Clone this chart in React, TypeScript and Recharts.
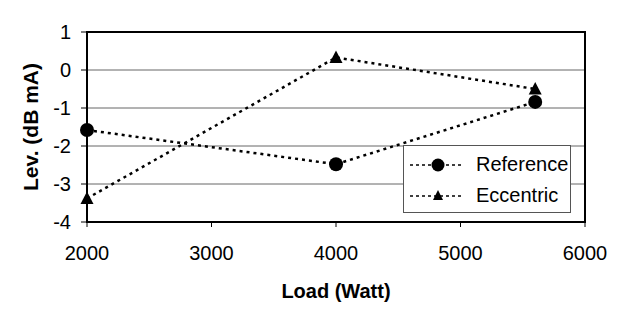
import React from 'react';
import {
  LineChart, Line, XAxis, YAxis, CartesianGrid, Legend, ReferenceArea, Label
} from 'recharts';

const loads = [2000, 4000, 5600];
const referenceLev = [-1.58, -2.48, -0.84];
const eccentricLev = [-3.38, 0.33, -0.5];
const xTicks = [2000, 3000, 4000, 5000, 6000];
const yTicks = [-4, -3, -2, -1, 0, 1];
const seriesNames = ['Reference', 'Eccentric'];

const FONT = '"Liberation Sans", Arial, sans-serif';

const data = loads.map((load, i) => ({
  load,
  reference: referenceLev[i],
  eccentric: eccentricLev[i],
}));

const CircleDot = (props: any) => {
  const { cx, cy, key } = props;
  if (cx == null || cy == null) return null;
  return <circle key={key} cx={cx} cy={cy} r={7} fill="#000" />;
};

const TriangleDot = (props: any) => {
  const { cx, cy, key } = props;
  if (cx == null || cy == null) return null;
  return (
    <path
      key={key}
      d={`M${cx},${cy - 7} L${cx + 6.5},${cy + 5.5} L${cx - 6.5},${cy + 5.5} Z`}
      fill="#000"
    />
  );
};

const LegendBox = () => (
  <div
    style={{
      width: 168, height: 68, boxSizing: 'border-box', background: '#fff',
      border: '1px solid #555', fontFamily: FONT, fontSize: 20, color: '#000',
      paddingTop: 3,
    }}
  >
    {seriesNames.map((name, i) => (
      <div key={name} style={{ display: 'flex', alignItems: 'center', height: 31 }}>
        <svg width={66} height={20} style={{ marginLeft: 6 }}>
          <line x1={0} y1={10} x2={54} y2={10} stroke="#000" strokeWidth={1.5} strokeDasharray="3 3" />
          {i === 0
            ? <circle cx={28} cy={10} r={6.5} fill="#000" />
            : <path d="M28,4 L33,14 L23,14 Z" fill="#000" />}
        </svg>
        <span>{name}</span>
      </div>
    ))}
  </div>
);

export default function App() {
  return (
    <div style={{ position: 'absolute', left: 0, top: 0, background: '#fff' }}>
      <LineChart
        width={621}
        height={320}
        data={data}
        margin={{ top: 32, right: 36, left: 0, bottom: 0 }}
        style={{ fontFamily: FONT }}
      >
        <CartesianGrid horizontal vertical={false} stroke="#666" strokeWidth={1} />
        <XAxis
          dataKey="load"
          type="number"
          domain={[2000, 6000]}
          ticks={xTicks}
          height={98}
          tickSize={5}
          tickMargin={19}
          axisLine={{ stroke: '#000', strokeWidth: 2 }}
          tickLine={{ stroke: '#000' }}
          tick={{ fill: '#000', fontSize: 20 }}
        >
          <Label
            value="Load (Watt)"
            position="insideBottom"
            offset={22}
            style={{ fontWeight: 'bold', fontSize: 20, fill: '#000' }}
          />
        </XAxis>
        <YAxis
          type="number"
          domain={[-4, 1]}
          ticks={yTicks}
          width={87}
          tickSize={6}
          tickMargin={10}
          axisLine={{ stroke: '#000', strokeWidth: 2 }}
          tickLine={{ stroke: '#000' }}
          tick={{ fill: '#000', fontSize: 20 }}
        >
          <Label
            content={() => (
              <text
                x={30}
                y={127}
                transform="rotate(-90 30 127)"
                textAnchor="middle"
                dominantBaseline="central"
                style={{ fontWeight: 'bold', fontSize: 21, fill: '#000', fontFamily: FONT }}
              >
                Lev. (dB mA)
              </text>
            )}
          />
        </YAxis>
        <ReferenceArea x1={2000} x2={6000} y1={-4} y2={1} fill="none" stroke="#000" strokeWidth={2} />
        <Line
          dataKey="reference"
          type="linear"
          stroke="#000"
          strokeWidth={2.5}
          strokeDasharray="3 4"
          dot={CircleDot}
          activeDot={false}
          isAnimationActive={false}
        />
        <Line
          dataKey="eccentric"
          type="linear"
          stroke="#000"
          strokeWidth={2.5}
          strokeDasharray="3 4"
          dot={TriangleDot}
          activeDot={false}
          isAnimationActive={false}
        />
        <Legend
          layout="horizontal"
          align="center"
          verticalAlign="middle"
          content={() => <LegendBox />}
          wrapperStyle={{ left: 403, top: 145, width: 168, height: 68 }}
        />
      </LineChart>
    </div>
  );
}
